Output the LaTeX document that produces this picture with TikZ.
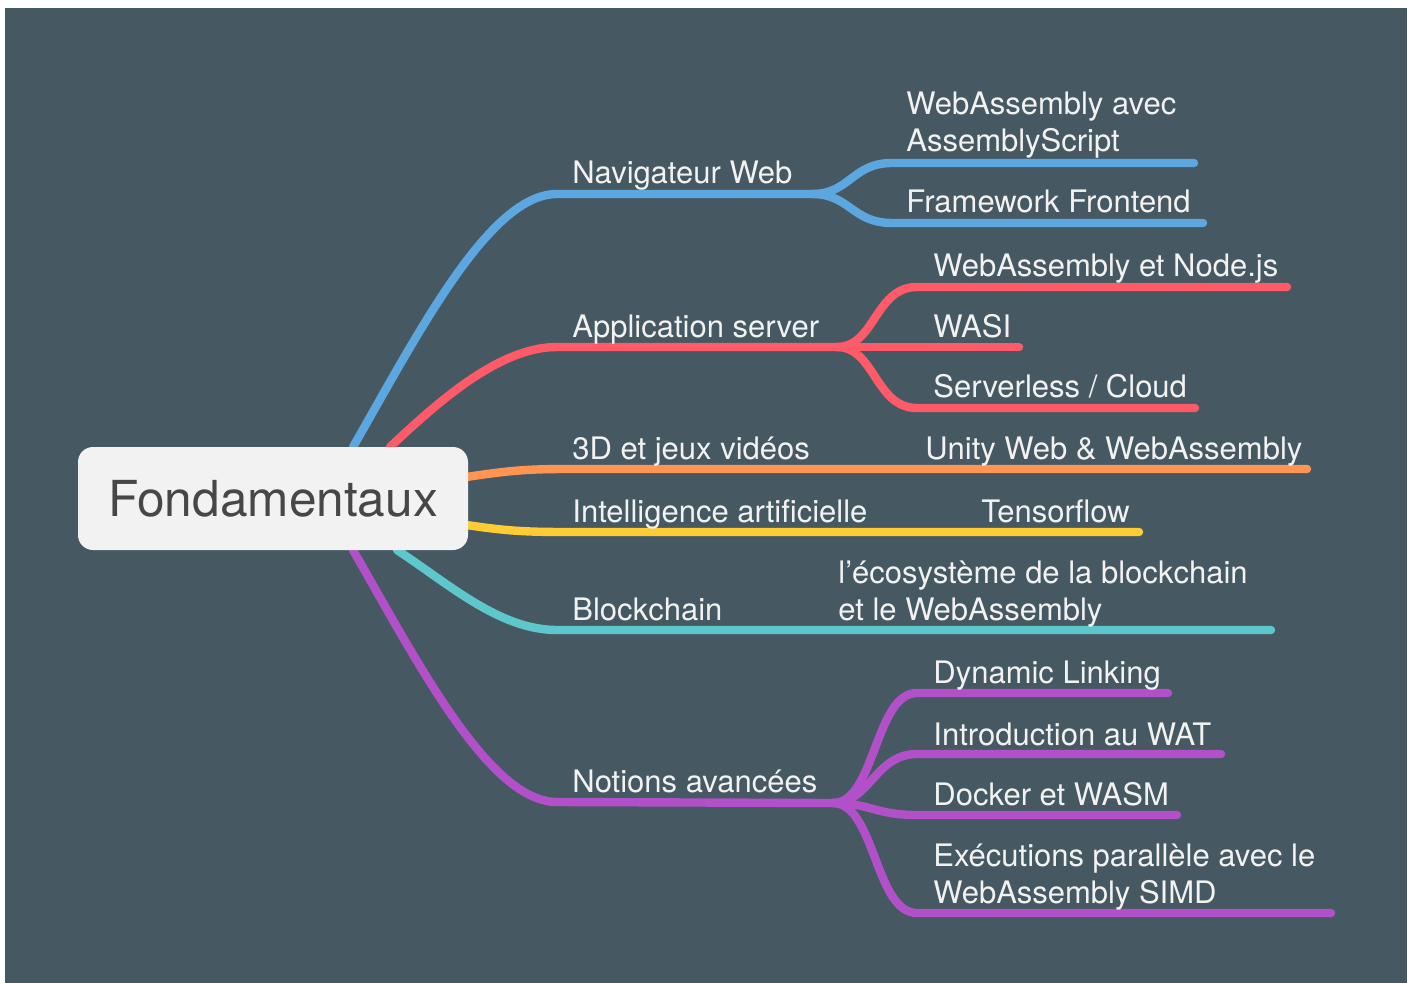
\documentclass[tikz,border=0pt]{standalone}
\usepackage{fontspec}
\setmainfont{TeX Gyre Heros}
\definecolor{bgc}{HTML}{465963}
\definecolor{cblue}{HTML}{5DA7E0}
\definecolor{cred}{HTML}{FF5A68}
\definecolor{corange}{HTML}{FF9550}
\definecolor{cyellow}{HTML}{FFCC33}
\definecolor{cteal}{HTML}{5EC7CB}
\definecolor{cpurple}{HTML}{B150C8}
\definecolor{labc}{HTML}{F2F2F2}
\definecolor{rootfill}{HTML}{F2F2F2}
\definecolor{roottext}{HTML}{474747}
\begin{document}
\begin{tikzpicture}[x=0.5pt,y=-0.5pt,
  branch/.style={line width=4.2pt,line cap=round,line join=round},
  lab/.style={anchor=base west,inner sep=0pt,text=labc,font=\fontsize{15.5}{18.5}\selectfont,align=left},
  rootbox/.style={fill=rootfill,rounded corners=7.5pt,minimum width=195pt,minimum height=51.5pt,inner sep=0pt,text=roottext,font=\fontsize{24.8}{28}\selectfont}]
\useasboundingbox (0,0) rectangle (1411,983);
\fill[white] (0,0) rectangle (1411,983);
\fill[bgc] (5,8) rectangle (1407,983);
% coordinates
\coordinate (sB) at (353,447);
\coordinate (sR) at (390,447);
\coordinate (sO) at (460,478);
\coordinate (sY) at (460,524);
\coordinate (sT) at (397,550);
\coordinate (sP) at (353,550);
\coordinate (fB) at (812,194);
\coordinate (fR) at (837,347);
\coordinate (fP) at (833,803);
\coordinate (eB1) at (1194,163);
\coordinate (eB2) at (1203,223);
\coordinate (eR1) at (1287,287);
\coordinate (eR2) at (1019,347);
\coordinate (eR3) at (1195,408);
\coordinate (eO) at (1307,469);
\coordinate (eY) at (1139,532);
\coordinate (eT) at (1271,630);
\coordinate (eP1) at (1168,693);
\coordinate (eP2) at (1221,754);
\coordinate (eP3) at (1177,815);
\coordinate (eP4) at (1331,913);
% blue
\draw[branch,cblue] (sB) .. controls (420,330) and (490,194) .. (557,194) -- (fB);
\draw[branch,cblue] (fB) .. controls (850,194) and (852,163) .. (892,163) -- (eB1);
\draw[branch,cblue] (fB) .. controls (850,194) and (852,223) .. (892,223) -- (eB2);
% red
\draw[branch,cred] (sR) .. controls (440,400) and (500,347) .. (557,347) -- (fR);
\draw[branch,cred] (fR) .. controls (875,347) and (875,287) .. (917,287) -- (eR1);
\draw[branch,cred] (fR) -- (eR2);
\draw[branch,cred] (fR) .. controls (875,347) and (875,408) .. (917,408) -- (eR3);
% orange / yellow
\draw[branch,corange] (sO) .. controls (505,471) and (525,469) .. (567,469) -- (eO);
\draw[branch,cyellow] (sY) .. controls (505,531) and (525,532) .. (567,532) -- (eY);
% teal
\draw[branch,cteal] (sT) .. controls (450,585) and (500,630) .. (557,630) -- (eT);
% purple
\draw[branch,cpurple] (sP) .. controls (420,667) and (490,802) .. (557,802) -- (fP);
\draw[branch,cpurple] (fP) .. controls (875,803) and (875,693) .. (917,693) -- (eP1);
\draw[branch,cpurple] (fP) .. controls (870,803) and (875,754) .. (917,754) -- (eP2);
\draw[branch,cpurple] (fP) .. controls (870,803) and (875,815) .. (917,815) -- (eP3);
\draw[branch,cpurple] (fP) .. controls (875,803) and (875,913) .. (917,913) -- (eP4);
% root
\node[rootbox] (root) at (273,498.5) {Fondamentaux};
% labels
\node[lab] (lNav) at (572,184) {Navigateur Web};
\node[lab] (lWA1) at (906,152) {WebAssembly avec\\AssemblyScript};
\node[lab] (lFF) at (906,213) {Framework Frontend};
\node[lab] (lApp) at (572,338) {Application server};
\node[lab] (lNode) at (933,277) {WebAssembly et Node.js};
\node[lab] (lWASI) at (933,338) {WASI};
\node[lab] (lSrv) at (933,398) {Serverless / Cloud};
\node[lab] (l3D) at (572,459) {3D et jeux vidéos};
\node[lab] (lUnity) at (925,459) {Unity Web \& WebAssembly};
\node[lab] (lIA) at (572,522) {Intelligence artificielle};
\node[lab] (lTF) at (981,522) {Tensorflow};
\node[lab] (lBC) at (572,620) {Blockchain};
\node[lab] (lEco) at (838,620) {l’écosystème de la blockchain\\et le WebAssembly};
\node[lab] (lNot) at (572,792) {Notions avancées};
\node[lab] (lDyn) at (933,683) {Dynamic Linking};
\node[lab] (lWAT) at (933,745) {Introduction au WAT};
\node[lab] (lDock) at (933,805) {Docker et WASM};
\node[lab] (lExe) at (933,903) {Exécutions parallèle avec le\\WebAssembly SIMD};
\end{tikzpicture}
\end{document}
